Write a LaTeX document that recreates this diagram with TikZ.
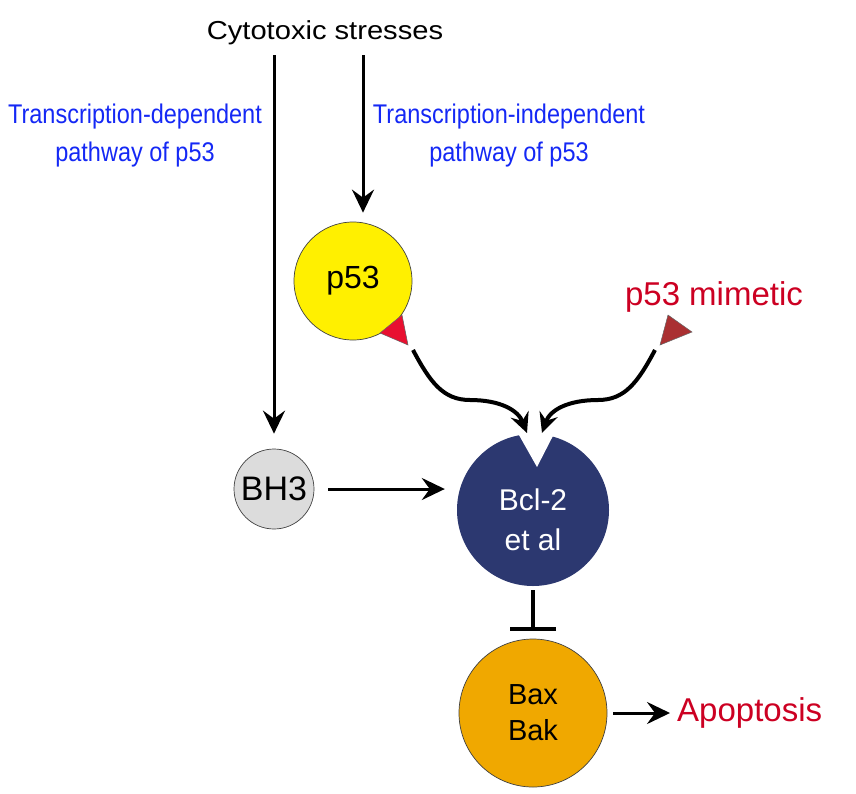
\documentclass[tikz,border=0pt]{standalone}
\usepackage{fontspec}
\setmainfont{Liberation Sans}
\newfontfamily\narrowsans[FakeStretch=0.87]{Liberation Sans}
\newfontfamily\widesans[FakeStretch=1.12]{Liberation Sans}
\usetikzlibrary{arrows.meta}

\definecolor{pyellow}{RGB}{255,240,0}
\definecolor{pred}{RGB}{232,16,48}
\definecolor{mimred}{RGB}{170,48,50}
\definecolor{bclblue}{RGB}{44,56,112}
\definecolor{bhgray}{RGB}{220,220,220}
\definecolor{baxorange}{RGB}{240,168,0}
\definecolor{tblue}{RGB}{20,40,245}
\definecolor{tred}{RGB}{204,0,34}

\begin{document}
\begin{tikzpicture}[x=1pt, y=-1pt,
    cell/.style={circle, draw=black!75, line width=0.7pt, inner sep=0pt, align=center},
    arr/.style={line width=3pt, -{Stealth[length=23pt, width=22pt, inset=8pt]}},
    wavy/.style={line width=4pt, -{Stealth[length=20pt, width=19pt, inset=7pt]}},
    pathlbl/.style={text=tblue, align=center, font=\narrowsans\fontsize{27}{38}\selectfont},
    redlbl/.style={text=tred, font=\fontsize{33}{40}\selectfont, inner sep=0pt}]

    \useasboundingbox (0,0) rectangle (856,793);

    % top label and the two pathways
    \node[font=\widesans\fontsize{26}{34}\selectfont] (cyto) at (325,33) {Cytotoxic stresses};
    \node[pathlbl] (deplbl) at (135,136) {Transcription-dependent\\pathway of p53};
    \node[pathlbl] (indeplbl) at (509,136) {Transcription-independent\\pathway of p53};

    % cells
    \node[cell, fill=pyellow, minimum size=118pt, font=\fontsize{32}{36}\selectfont] (p53) at (353,281) {p53};
    \node[cell, fill=bhgray, minimum size=80pt, font=\fontsize{34}{36}\selectfont] (bh3) at (274,489) {BH3};
    \node[circle, fill=bclblue, minimum size=152pt, inner sep=0pt] (bcl) at (533,510) {};
    \node[text=white, align=center, font=\fontsize{30}{40}\selectfont] (bcllbl) at (533,520) {Bcl-2\\et al};
    \node[cell, fill=baxorange, minimum size=148pt, font=\fontsize{29}{36}\selectfont] (bax) at (533,713) {Bax\\Bak};

    % notch of Bcl-2
    \fill[white] (515,428) -- (537,467) -- (557,428) -- cycle;

    % triangles
    \filldraw[fill=pred, draw=black!60, line width=0.5pt] (380,333) -- (402,315) -- (408,345) -- cycle;
    \filldraw[fill=mimred, draw=black!60, line width=0.5pt] (668,315) -- (692,332) -- (660,345) -- cycle;

    \node[redlbl] (mimetic) at (714,297) {p53 mimetic};
    \node[redlbl, anchor=west] (apop) at (677,713) {Apoptosis};

    \coordinate (cytoL) at (274,55);
    \coordinate (cytoR) at (363,55);
    \coordinate (p53tip) at (413,350);
    \coordinate (mimtip) at (655,350);
    \coordinate (notchL) at (527,433);
    \coordinate (notchR) at (542,433);

    % connectors
    \draw[arr, shorten >=15pt] (cytoL) -- (bh3.north);
    \draw[arr, shorten >=9pt] (cytoR) -- (cytoR |- p53.north);
    \draw[arr, shorten <=14pt, shorten >=12pt] (bh3.east) -- (bh3.east -| bcl.west);
    \draw[line width=3.5pt, -{Bar[width=46pt]}, shorten <=4pt, shorten >=8pt] (bcl) -- (bax);
    \draw[arr, shorten <=6pt, shorten >=7pt] (bax.east) -- (apop.west);

    \draw[wavy] (p53tip) .. controls (430,382) and (443,400) .. (470,400)
        .. controls (500,400) and (518,410) .. (notchL);
    \draw[wavy] (mimtip) .. controls (638,382) and (625,400) .. (598,400)
        .. controls (568,400) and (550,410) .. (notchR);
\end{tikzpicture}
\end{document}
